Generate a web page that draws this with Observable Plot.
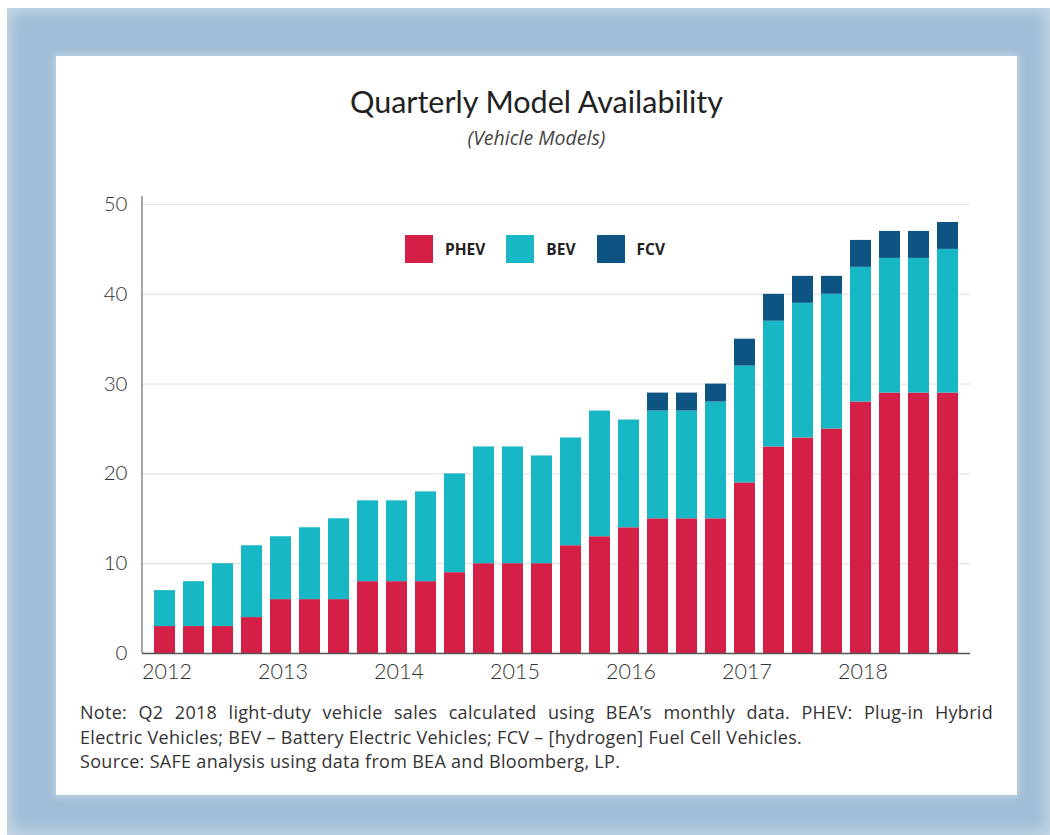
<!DOCTYPE html>
<html>
<head>
<meta charset="utf-8">
<script src="https://cdn.jsdelivr.net/npm/d3@7"></script>
<script src="https://cdn.jsdelivr.net/npm/@observablehq/plot@0.6"></script>
<style>
  html, body { margin: 0; padding: 0; background: #ffffff; }
  #page { position: relative; width: 1050px; height: 835px; overflow: hidden; font-family: Lato, "Open Sans", sans-serif; }
  #frame { position: absolute; left: 7px; top: 8px; width: 1043px; height: 827px;
           background: #a0bed6; box-shadow: inset 0 0 14px 4px #c3d7e7; }
  #panel { position: absolute; left: 56px; top: 56px; width: 961px; height: 739px; background: #ffffff;
           box-shadow: 0 0 8px 2px rgba(200,218,232,0.8); }
  #title { position: absolute; left: 56px; width: 961px; top: 83px; text-align: center;
           font-size: 30.5px; color: #222; line-height: 36px; }
  #subtitle { position: absolute; left: 56px; width: 961px; top: 126px; text-align: center;
              font-family: "Open Sans", sans-serif;
              font-size: 19.5px; font-style: italic; color: #444; line-height: 24px; }
  #chart { position: absolute; left: 0; top: 180px; }
  #legend { position: absolute; top: 235px; left: 405px; display: flex; align-items: center; }
  .lg { display: flex; align-items: center; }
  .sw { width: 28px; height: 28px; display: inline-block; }
  .lt { font-family: "Open Sans", sans-serif; font-size: 15.5px; font-weight: 700; color: #222; margin-left: 12px; }
  #note { position: absolute; left: 80px; top: 700px; width: 913px; font-family: "Open Sans", sans-serif;
          font-size: 18px; letter-spacing: 0.3px; color: #333; line-height: 24.5px; }
  #note .j { text-align: justify; text-align-last: justify; }
</style>
</head>
<body>
<div id="page">
  <div id="frame"></div>
  <div id="panel"></div>
  <div id="title">Quarterly Model Availability</div>
  <div id="subtitle">(Vehicle Models)</div>
  <div id="chart"></div>
  <div id="legend"></div>
  <div id="note">
    <div class="j">Note: Q2 2018 light-duty vehicle sales calculated using BEA’s monthly data. PHEV: Plug-in Hybrid</div>
    <div>Electric Vehicles; BEV – Battery Electric Vehicles; FCV – [hydrogen] Fuel Cell Vehicles.</div>
    <div>Source: SAFE analysis using data from BEA and Bloomberg, LP.</div>
  </div>
</div>
<script>
// ---- data ----
const years = ["2012", "2013", "2014", "2015", "2016", "2017", "2018"];
const quarterNames = ["Q1", "Q2", "Q3", "Q4"];
const quarters = years.flatMap(y => quarterNames.map(q => `${y} ${q}`));
const phev = [3, 3, 3, 4, 6, 6, 6, 8, 8, 8, 9, 10, 10, 10, 12, 13, 14, 15, 15, 15, 19, 23, 24, 25, 28, 29, 29, 29];
const bev  = [4, 5, 7, 8, 7, 8, 9, 9, 9, 10, 11, 13, 13, 12, 12, 14, 12, 12, 12, 13, 13, 14, 15, 15, 15, 15, 15, 16];
const fcv  = [0, 0, 0, 0, 0, 0, 0, 0, 0, 0, 0, 0, 0, 0, 0, 0, 0, 2, 2, 2, 3, 3, 3, 2, 3, 3, 3, 3];
const seriesNames = ["PHEV", "BEV", "FCV"];
const seriesColors = ["#d41f47", "#17b7c5", "#0e5482"];
const yTicks = [0, 10, 20, 30, 40, 50];

const seriesValues = [phev, bev, fcv];
const rows = [];
quarters.forEach((q, i) => {
  seriesNames.forEach((s, j) => rows.push({quarter: q, series: s, value: seriesValues[j][i]}));
});

const W = 1050, H = 520;
const mTop = 24, mBottom = 47, mLeft = 142, mRight = 80;

const axisLines = (index, scales, values, dims) => {
  const g = d3.create("svg:g");
  const x0 = dims.marginLeft;
  const y1 = dims.height - dims.marginBottom;
  g.append("line").attr("x1", x0).attr("x2", x0).attr("y1", dims.marginTop - 8).attr("y2", y1)
    .attr("stroke", "#777").attr("stroke-width", 1.3);
  return g.node();
};

const chart = Plot.plot({
  width: W,
  height: H,
  marginTop: mTop,
  marginBottom: mBottom,
  marginLeft: mLeft,
  marginRight: mRight,
  style: {fontFamily: "Lato, sans-serif", background: "transparent"},
  x: {domain: quarters, padding: 0.27, label: null},
  y: {domain: [0, 50], label: null},
  color: {domain: seriesNames, range: seriesColors},
  marks: [
    Plot.gridY(yTicks, {stroke: "#e4e4e4", strokeOpacity: 1, strokeWidth: 1.2}),
    Plot.barY(rows, Plot.stackY({x: "quarter", y: "value", fill: "series", order: seriesNames, inset: 0})),
    Plot.ruleY([0], {stroke: "#555", strokeWidth: 1.3}),
    axisLines,
    Plot.axisY({ticks: yTicks, tickSize: 0, tickPadding: 15, fontSize: 20.5, fontWeight: 300, fill: "#333",
                label: null, letterSpacing: "1px"}),
    Plot.axisX({ticks: quarters.filter(q => q.endsWith("Q1")), tickFormat: q => q.slice(0, 4),
                tickSize: 0, tickPadding: 10, fontSize: 21.5, fontWeight: 300, fill: "#333", label: null,
                letterSpacing: "3.5px", dx: 2})
  ]
});
document.getElementById("chart").appendChild(chart);

// legend
const lg = document.getElementById("legend");
const gaps = [0, 21, 21];
seriesNames.forEach((s, i) => {
  const item = document.createElement("div");
  item.className = "lg";
  item.style.marginLeft = gaps[i] + "px";
  item.innerHTML = `<span class="sw" style="background:${seriesColors[i]}"></span><span class="lt">${s}</span>`;
  lg.appendChild(item);
});
</script>
</body>
</html>
